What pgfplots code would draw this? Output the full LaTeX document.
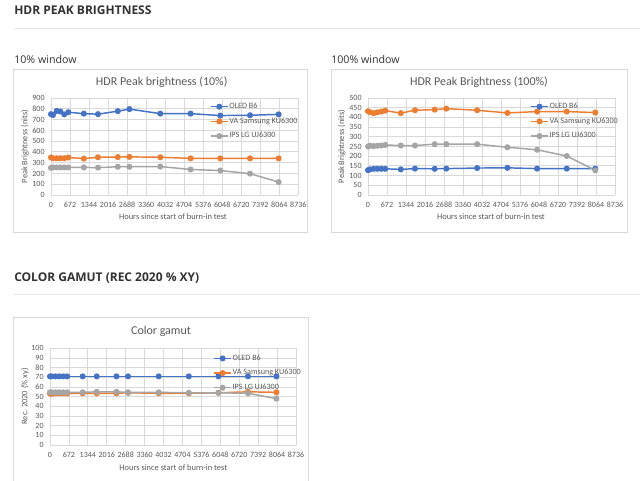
\documentclass[border=0pt]{standalone}
\usepackage{fontspec}
\setmainfont{Carlito}
\newfontfamily\opensans{Open Sans}
\usepackage{pgfplots}
\pgfplotsset{compat=1.18}

\definecolor{oled}{HTML}{4472C4}
\definecolor{va}{HTML}{ED7D31}
\definecolor{ips}{HTML}{A5A5A5}
\definecolor{gridc}{HTML}{D9D9D9}
\definecolor{txt}{HTML}{595959}
\definecolor{head}{HTML}{333333}
\definecolor{rule}{HTML}{E6E6E6}

% hours since start of the test, same for every chart
\pgfplotstableread{
h     o10  v10  i10  o100 v100 i100 og   vg   ig
0     750  348  252  128  432  250  71   53   54.5
70    742  341  256  132  427  254  71   53   54.5
200   780  341  256  135  422  252  71   53.5 54.5
330   775  341  256  135  426  254  71   53.5 54.5
470   748  341  256  135  430  255  71   53.5 54.5
610   768  348  256  135  435  258  71   53.5 54.5
1160  755  338  256  132  422  255  71   53.5 54.5
1660  750  350  254  136  437  255  71   53.5 55
2360  778  352  262  135  440  262  71   53.5 55
2770  797  354  262  136  445  262  71   54   54.5
3860  755  350  264  139  437  262  71   53.5 54.5
4930  755  340  237  140  423  246  71   53.5 54
5980  737  340  227  136  430  233  71   54   54
7030  740  340  198  136  430  201  71   55   53.5
8040  748  340  120  136  425  127  71   54.5 48
}\burn

\pgfplotsset{
  burn/.style={
    scale only axis, anchor=south west,
    width=185.5pt, height=72.75pt,
    xmin=0, xmax=8736,
    xtick={0,672,1344,2016,2688,3360,4032,4704,5376,6048,6720,7392,8064,8736},
    grid=major, major grid style={gridc, line width=0.6pt},
    axis line style={draw=none}, major tick length=0pt,
    tick label style={font=\fontsize{6}{7}\selectfont, text=txt},
    /pgf/number format/1000 sep={},
    /pgf/number format/assume math mode=true,
    yticklabel style={anchor=east, inner sep=0pt, xshift=-4.6pt},
    xticklabel style={anchor=north, inner sep=0pt, yshift=-5.3pt},
    every axis plot/.append style={line width=1.1pt, mark=*, mark size=1.7pt},
    legend style={draw=none, fill=none, anchor=north west,
      inner sep=0pt, row sep=4.2pt,
      nodes={inner sep=0.6pt, text=txt, font=\fontsize{6.1}{7}\selectfont}},
    legend cell align=left,
    legend image code/.code={
      \draw[mark repeat=2, mark phase=2, ##1]
        plot coordinates {(0pt,0pt) (6.4pt,0pt) (12.8pt,0pt)};},
  }
}

\begin{document}
\begin{tikzpicture}
\begin{scope}[x=0.75pt, y=-0.75pt]
  \useasboundingbox (0,0) rectangle (640,481);
  \fill[white] (0,0) rectangle (640,481);
  % page headings
  \node[anchor=base west, inner sep=0pt, text=head, font=\opensans\bfseries\fontsize{9}{10}\selectfont] at (14,15) {HDR PEAK BRIGHTNESS};
  \draw[rule, line width=0.75pt] (14,28.5) -- (640,28.5);
  \node[anchor=base west, inner sep=0pt, text=head, font=\opensans\fontsize{8}{9}\selectfont] at (14,63.3) {10\% window};
  \node[anchor=base west, inner sep=0pt, text=head, font=\opensans\fontsize{8}{9}\selectfont] at (331,63.3) {100\% window};
  \node[anchor=base west, inner sep=0pt, text=head, font=\opensans\bfseries\fontsize{9}{10}\selectfont] at (14,282) {COLOR GAMUT (REC 2020 \% XY)};
  \draw[rule, line width=0.75pt] (14,295) -- (640,295);
  % chart frames
  \draw[gridc, line width=0.75pt] (13,70) rectangle (307,233);
  \draw[gridc, line width=0.75pt] (331,70) rectangle (627,233);
  \draw[gridc, line width=0.75pt] (13,490) -- (13,318) -- (308,318) -- (308,490);
  % chart titles and axis labels
  \begin{scope}[every node/.style={text=txt, inner sep=0pt}]
    \node[font=\fontsize{9}{10}\selectfont] at (161.7,82) {HDR Peak brightness (10\%)};
    \node[font=\fontsize{9}{10}\selectfont] at (479,82) {HDR Peak Brightness (100\%)};
    \node[font=\fontsize{9}{10}\selectfont] at (161,331.7) {Color gamut};
    \node[font=\fontsize{6.3}{7}\selectfont] at (173,216.7) {Hours since start of burn-in test};
    \node[font=\fontsize{6.3}{7}\selectfont] at (491,216.7) {Hours since start of burn-in test};
    \node[font=\fontsize{6.3}{7}\selectfont] at (173.3,467.7) {Hours since start of burn-in test};
    \node[font=\fontsize{6.3}{7}\selectfont, rotate=90] at (25,146.5) {Peak Brightness (nits)};
    \node[font=\fontsize{6.3}{7}\selectfont, rotate=90] at (341.7,146.5) {Peak Brightness (nits)};
    \node[font=\fontsize{6.3}{7}\selectfont, rotate=90] at (25,396.5) {Rec. 2020 (\% xy)};
  \end{scope}
\end{scope}

% 10% window
\begin{axis}[burn, at={(38.25pt,-146.25pt)},
  ymin=0, ymax=900, ytick={0,100,...,900},
  legend style={at={(0.642,0.96)}}]
  \addplot[oled] table[x=h, y=o10] {\burn};
  \addplot[va] table[x=h, y=v10] {\burn};
  \addplot[ips] table[x=h, y=i10] {\burn};
  \legend{OLED B6, VA Samsung KU6300, IPS LG UJ6300}
\end{axis}

% 100% window
\begin{axis}[burn, at={(276pt,-146.25pt)}, width=185.25pt,
  ymin=0, ymax=500, ytick={0,50,...,500},
  legend style={at={(0.656,0.96)}}]
  \addplot[oled] table[x=h, y=o100] {\burn};
  \addplot[va] table[x=h, y=v100] {\burn};
  \addplot[ips] table[x=h, y=i100] {\burn};
  \legend{OLED B6, VA Samsung KU6300, IPS LG UJ6300}
\end{axis}

% color gamut
\begin{axis}[burn, at={(37.5pt,-333.75pt)}, width=184.5pt, height=72.5pt,
  ymin=0, ymax=100, ytick={0,10,...,100},
  legend style={at={(0.663,0.946)}}]
  \addplot[oled] table[x=h, y=og] {\burn};
  \addplot[va] table[x=h, y=vg] {\burn};
  \addplot[ips] table[x=h, y=ig] {\burn};
  \legend{OLED B6, VA Samsung KU6300, IPS LG UJ6300}
\end{axis}
\end{tikzpicture}
\end{document}
